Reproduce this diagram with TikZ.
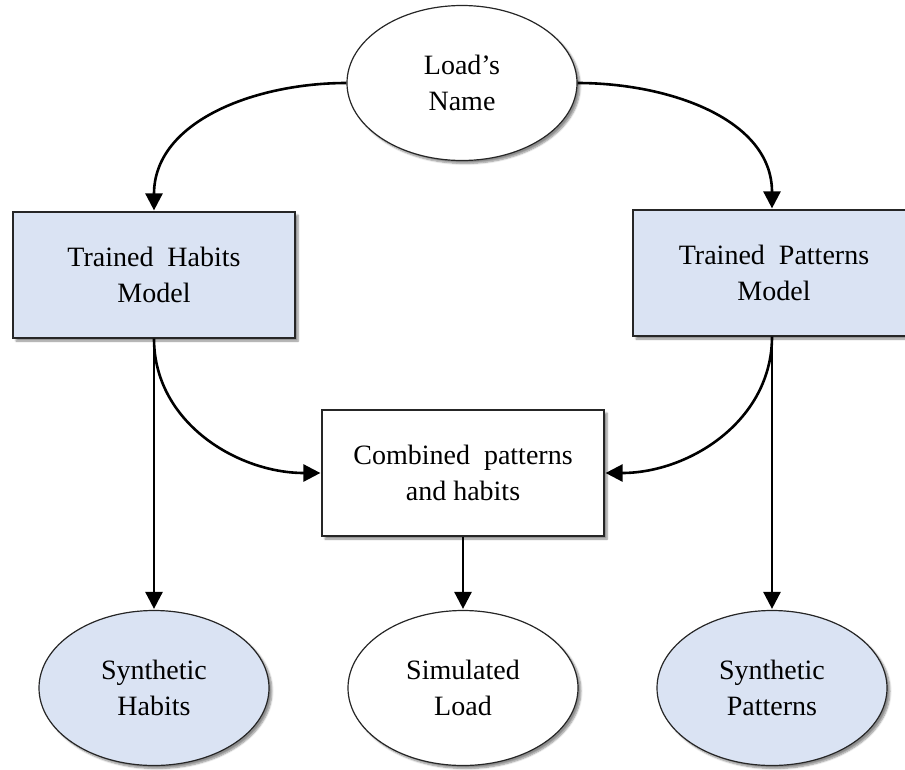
\documentclass[tikz,border=0pt]{standalone}
\usepackage{fontspec}
\setmainfont{Liberation Serif}
\usetikzlibrary{shapes.geometric,arrows.meta,shadows.blur}
\definecolor{paleblue}{HTML}{DAE3F3}
\begin{document}
\begin{tikzpicture}[x=1pt,y=-1pt,
  every node/.style={font=\fontsize{28}{36}\selectfont, align=center, draw=black!85, line width=1.2pt,
    blur shadow={shadow xshift=3pt,shadow yshift=-3pt,shadow blur steps=6,shadow opacity=45}},
  boxnode/.style={rectangle, minimum width=282pt, minimum height=126pt, inner sep=0pt},
  ovalnode/.style={ellipse, minimum width=230pt, minimum height=155pt, inner sep=0pt},
  arr/.style={line width=2.6pt, -{Triangle[length=17pt,width=17pt]}, shorten >=1pt}]
\useasboundingbox (0,0) rectangle (905,769);
\node[ovalnode, fill=white] (load) at (462,83) {Load’s\\Name};
\node[boxnode, fill=paleblue] (thm) at (154,275) {Trained\ \ Habits\\Model};
\node[boxnode, fill=paleblue] (tpm) at (774,273) {Trained\ \ Patterns\\Model};
\node[boxnode, fill=white] (comb) at (463,473) {Combined\ \ patterns\\and habits};
\node[ovalnode, fill=paleblue] (sh) at (154,688) {Synthetic\\Habits};
\node[ovalnode, fill=white] (sl) at (463,688) {Simulated\\Load};
\node[ovalnode, fill=paleblue] (sp) at (772,688) {Synthetic\\Patterns};
\draw[arr] (load.west) to[out=180,in=90] (thm.north);
\draw[arr] (load.east) to[out=0,in=90] (tpm.north -| sp.north);
\draw[arr] (thm.south) -- (sh.north);
\draw[arr] (thm.south) to[out=-90,in=180] (comb.west);
\draw[arr] (tpm.south -| sp.north) -- (sp.north);
\draw[arr] (tpm.south -| sp.north) to[out=-90,in=0] (comb.east);
\draw[arr] (comb.south) -- (sl.north);
\end{tikzpicture}
\end{document}
